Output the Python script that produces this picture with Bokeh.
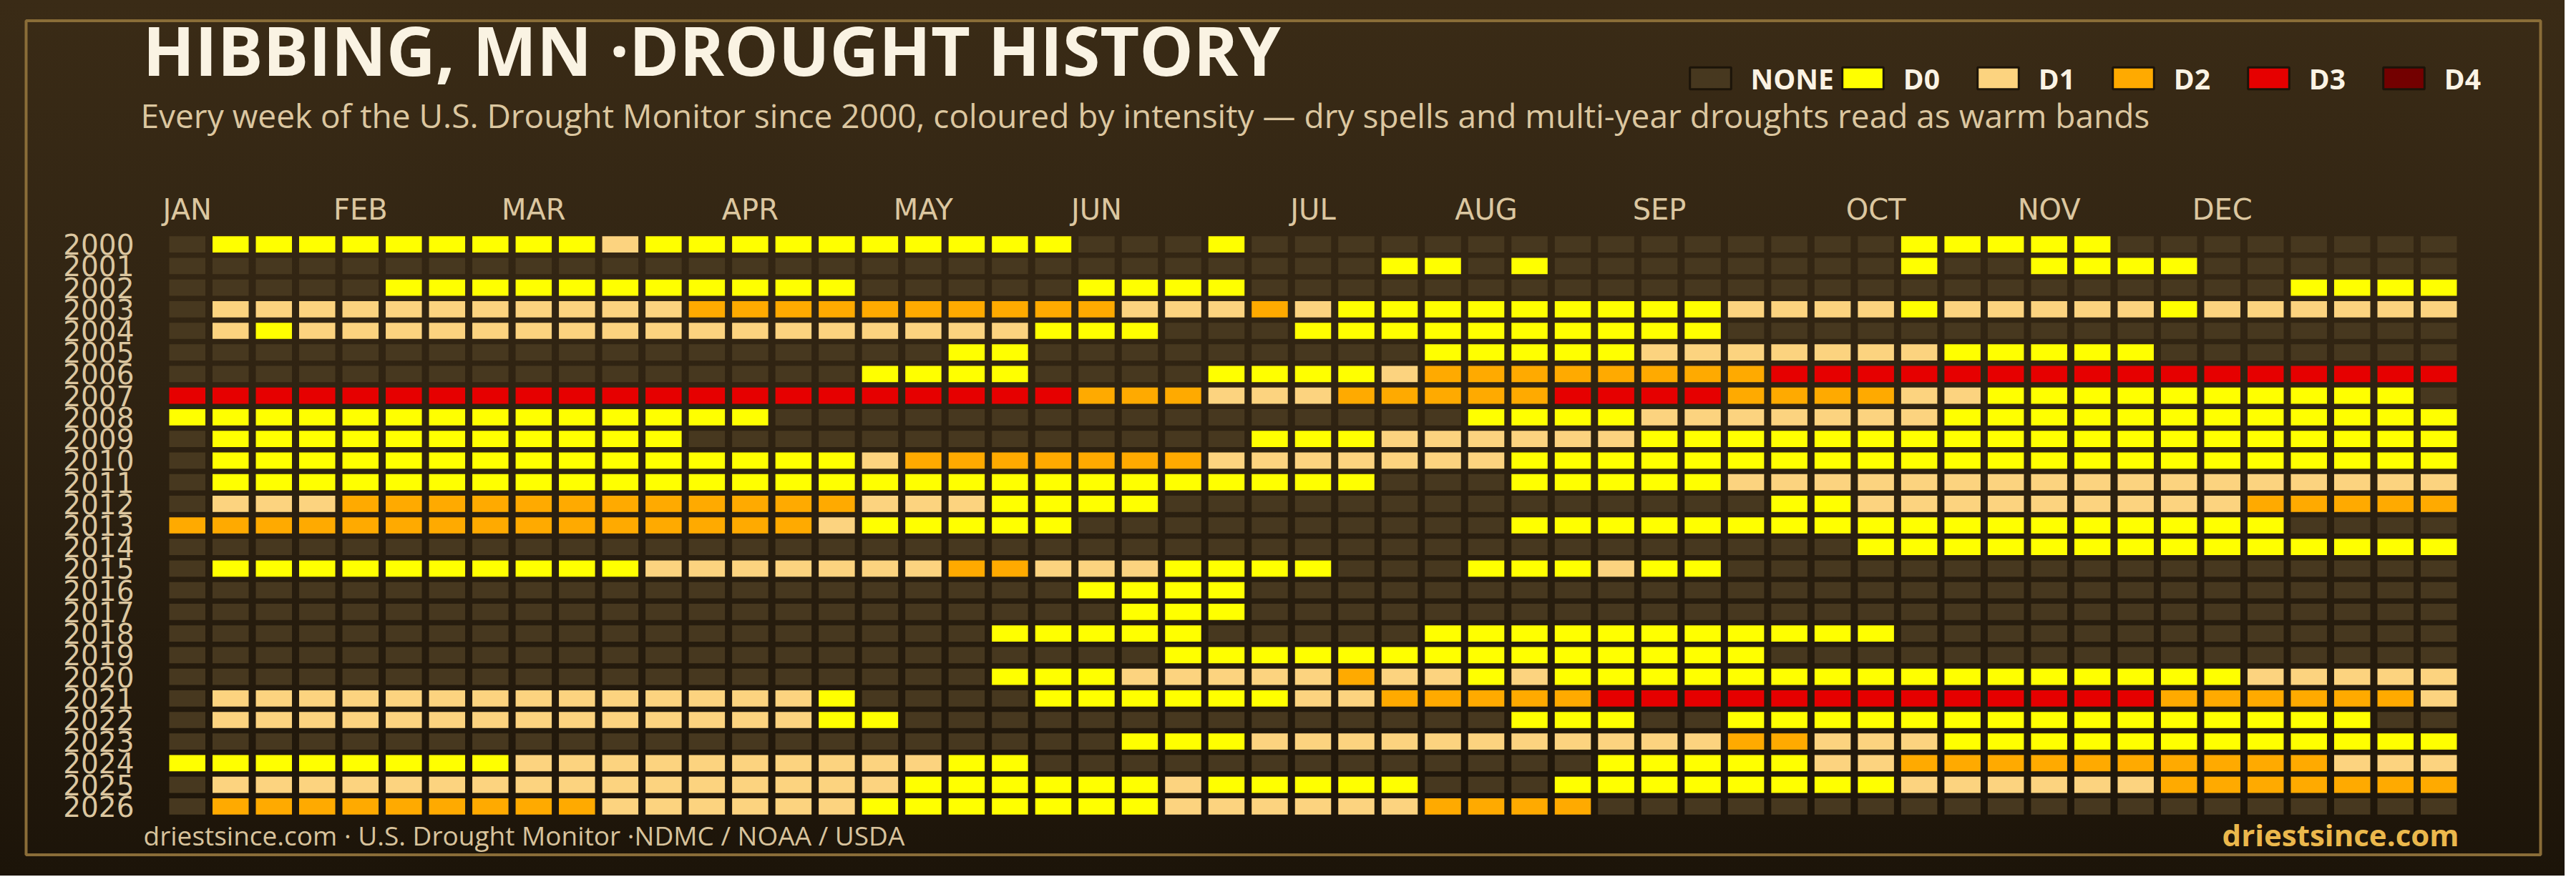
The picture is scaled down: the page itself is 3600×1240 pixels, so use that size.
from bokeh.plotting import figure
from bokeh.models import (ColumnDataSource, Legend, LegendItem, BoxAnnotation, Range1d)
from bokeh.core.properties import value
from bokeh.embed import file_html
from bokeh.resources import INLINE

# ---------------- data ----------------
years = list(range(2000, 2027))
weeks = list(range(1, 54))
month_ticks = [1, 5, 9, 14, 18, 22, 27, 31, 35, 40, 44, 48]
month_names = ["JAN", "FEB", "MAR", "APR", "MAY", "JUN",
               "JUL", "AUG", "SEP", "OCT", "NOV", "DEC"]
level_names = ["NONE", "D0", "D1", "D2", "D3", "D4"]
level_codes = [".", "0", "1", "2", "3", "4"]
level_colors = ["#47381f", "#ffff00", "#fcd37f", "#ffaa00", "#e60000", "#730000"]

# one string per year, one character per week: "." none, "0".."4" = D0..D4
drought_weeks = [
    ".000000000" "1000000000" "0...0....." ".........." "00000....." "...",   # 2000
    ".........." ".........." "........00" ".0........" "0..0000..." "...",   # 2001
    ".....00000" "000000...." ".0000....." ".........." ".........0" "000",   # 2002
    ".111111111" "1122222222" "2211121000" "0000001111" "0111110111" "111",   # 2003
    ".101111111" "1111111111" "000...0000" "000000...." ".........." "...",   # 2004
    ".........." "........00" ".........0" "0000111111" "100000...." "...",   # 2005
    ".........." "......0000" "....000012" "2222222333" "3333333333" "333",   # 2006
    "3333333333" "3333333333" "3222111222" "2233332222" "1100000000" "00.",   # 2007
    "0000000000" "0000......" ".........." "0000111111" "1000000000" "000",   # 2008
    ".000000000" "00........" ".....00011" "1111000000" "0000000000" "000",   # 2009
    ".000000000" "0000001222" "2222111111" "1000000000" "0000000000" "000",   # 2010
    ".000000000" "0000000000" "00000000.." ".000001111" "1111111111" "111",   # 2011
    ".111222222" "2222221110" "000......." ".......001" "1111111122" "222",   # 2012
    "2222222222" "2222210000" "0........." ".000000000" "000000000." "...",   # 2013
    ".........." ".........." ".........." ".........0" "0000000000" "000",   # 2014
    ".000000000" "0111111122" "1110000..." "000100...." ".........." "...",   # 2015
    ".........." ".........." ".0000....." ".........." ".........." "...",   # 2016
    ".........." ".........." "..000....." ".........." ".........." "...",   # 2017
    ".........." ".........0" "0000.....0" "0000000000" ".........." "...",   # 2018
    ".........." ".........." "...0000000" "0000000..." ".........." "...",   # 2019
    ".........." ".........0" "0011111211" "0100000000" "0000000011" "111",   # 2020
    ".111111111" "111110...." "0000001122" "2223333333" "3333332222" "221",   # 2021
    ".111111111" "1111100..." ".........." ".000..0000" "0000000000" "0..",   # 2022
    ".........." ".........." "..00011111" "1111112211" "1000000000" "000",   # 2023
    "0000000011" "1111111100" ".........." "...0000011" "2222222222" "111",   # 2024
    ".111111111" "1111111000" "000100000." "..00000000" "1111112222" "222",   # 2025
    ".222222222" "1111110000" "0001111112" "222......." ".........." "...",   # 2026
]

TITLE = "HIBBING, MN \u00b7DROUGHT HISTORY"
SUBTITLE = ("Every week of the U.S. Drought Monitor since 2000, coloured by intensity "
            "\u2014 dry spells and multi-year droughts read as warm bands")
FOOT_LEFT = "driestsince.com  \u00b7 U.S. Drought Monitor \u00b7NDMC / NOAA / USDA"
FOOT_RIGHT = "driestsince.com"

for yr, row in zip(years, drought_weeks):
    assert len(row) == len(weeks), (yr, len(row))

# ---------------- build table ----------------
code_to_color = dict(zip(level_codes, level_colors))
code_to_name = dict(zip(level_codes, level_names))
xs, ys, cols, names = [], [], [], []
for yr, row in zip(years, drought_weeks):
    for wk, ch in zip(weeks, row):
        xs.append(wk)
        ys.append(yr)
        cols.append(code_to_color[ch])
        names.append(code_to_name[ch])
src = ColumnDataSource(dict(week=xs, year=ys, color=cols, level=names))

# ---------------- layout geometry (pixels on the canvas) ----------------
W, H = 3584, 1224
GRID_L, GRID_T = 231, 326          # top-left of the cell grid block
PX_WEEK = 3207 / len(weeks)        # horizontal pitch of one week
PX_YEAR = 816 / len(years)         # vertical pitch of one year


def fx(px):   # canvas x pixel -> week units
    return weeks[0] - 0.5 + (px - GRID_L) / PX_WEEK


def fy(py):   # canvas y pixel (from top) -> year units
    return years[0] - 0.5 + (py - GRID_T) / PX_YEAR


p = figure(width=W, height=H,
           x_range=Range1d(fx(0), fx(W)),
           y_range=Range1d(fy(H), fy(0)),
           x_axis_location=None, y_axis_location=None,
           output_backend="svg", toolbar_location=None,
           min_border=0, min_border_left=0, min_border_right=0,
           min_border_top=0, min_border_bottom=0)
p.styles = {"background": "linear-gradient(to bottom, #3a2b16 0%, #2f2312 45%, #1c1409 100%)"}
p.background_fill_color = None
p.border_fill_color = None
p.outline_line_color = None
p.grid.visible = False

# frame border
p.add_layout(BoxAnnotation(left=fx(36), right=fx(3550), top=fy(28.5), bottom=fy(1194.5),
                           fill_alpha=0, line_color="#8a6d38", line_alpha=1.0,
                           line_width=4, level="underlay"))

p.rect(x="week", y="year", width=0.835, height=0.752, fill_color="color",
       line_color=None, source=src)

TAN = "#dcc7a0"
# month labels (top axis)
p.text(x=month_ticks, y=[fy(292)] * len(month_ticks), text=month_names,
       text_align="center", text_baseline="alphabetic",
       text_font=value("DejaVu Sans"), text_font_size="40px", text_color=TAN)
# year labels (left axis)
p.text(x=[fx(187)] * len(years), y=years, text=[str(y) for y in years],
       text_align="right", text_baseline="middle",
       text_font=value("DejaVu Sans"), text_font_size="39px", text_color=TAN)

# legend (swatch renderers hold no visible point)
items = []
for nm, c in zip(level_names, level_colors):
    r = p.rect(x=[float("nan")], y=[float("nan")], width=1, height=1, fill_color=c,
               line_color="#1c1409", line_width=3)
    items.append(LegendItem(label=nm, renderers=[r]))
leg = Legend(items=items, orientation="horizontal",
             location=(2353.5, H - 135.5),
             glyph_width=72, glyph_height=38, label_standoff=21, label_width=92,
             spacing=4, padding=0, margin=0, border_line_color=None,
             background_fill_alpha=0,
             label_text_font="Open Sans", label_text_font_style="bold",
             label_text_font_size="39px", label_text_color="#fbf3e4")
p.add_layout(leg)


# texts
def add_text(txt, px, py, size, color, style="normal", align="left"):
    p.text(x=[fx(px)], y=[fy(py)], text=[txt], text_font=value("Open Sans"),
           text_font_size=size, text_font_style=style, text_color=color,
           text_align=align, text_baseline="alphabetic")


add_text(TITLE, 199, 68, "95px", "#faf3e3", "bold")
add_text(SUBTITLE, 196, 160, "46px", TAN)
add_text(FOOT_LEFT, 200, 1167, "37px", "#d8c39c")
add_text(FOOT_RIGHT, 3436, 1166, "42px", "#ebb84c", "bold", "right")

open("out.html", "w").write(file_html(p, INLINE))
